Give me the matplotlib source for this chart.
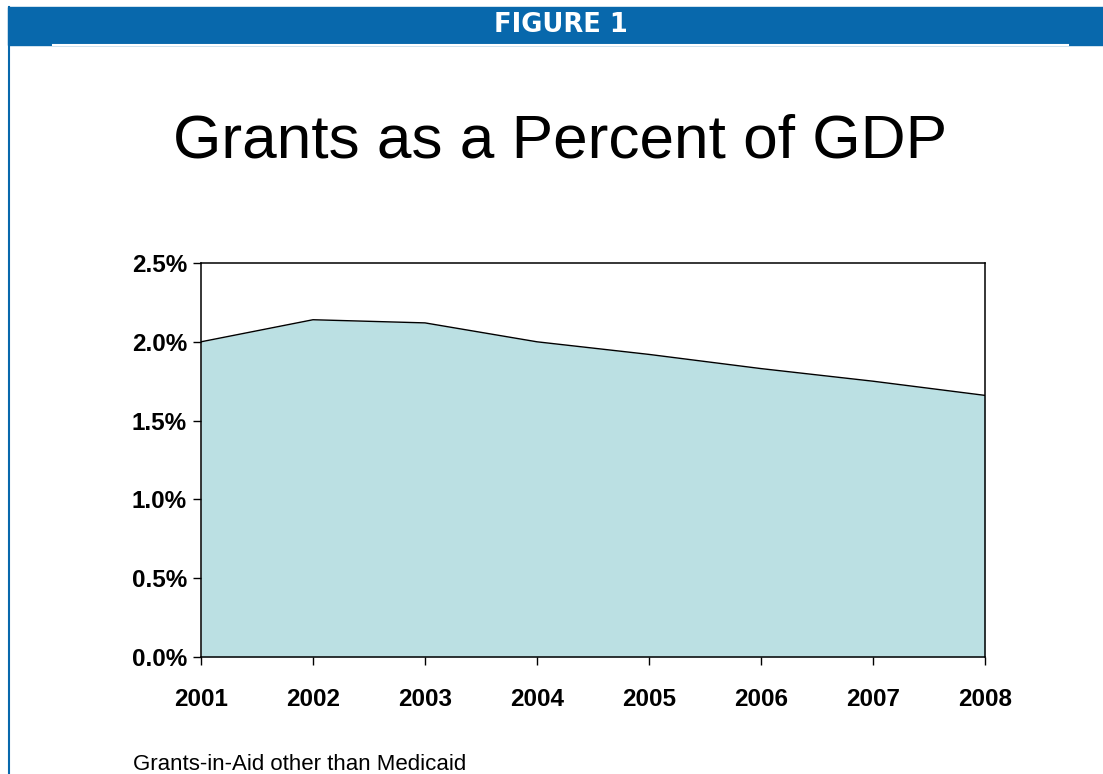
import numpy as np
import matplotlib.pyplot as plt
from matplotlib.patches import Rectangle
from matplotlib.lines import Line2D

years = [2001, 2002, 2003, 2004, 2005, 2006, 2007, 2008]
grants_pct = [2.00, 2.14, 2.12, 2.00, 1.92, 1.83, 1.75, 1.66]
y_ticks = [0.0, 0.5, 1.0, 1.5, 2.0, 2.5]
y_labels = ['0.0%', '0.5%', '1.0%', '1.5%', '2.0%', '2.5%']

W, H = 1103, 774
fig = plt.figure(figsize=(W / 100, H / 100), dpi=100)
plt.rcParams['font.family'] = ['Liberation Sans', 'DejaVu Sans']

# header band + left border
blue = '#0868ac'
fig.patches.append(Rectangle((8 / W, 1 - 45 / H), (W - 8) / W, 38 / H,
                             transform=fig.transFigure, color=blue, zorder=0))
fig.lines.append(Line2D([53 / W, 1068 / W], [1 - 44.5 / H, 1 - 44.5 / H],
                        transform=fig.transFigure, color='white', lw=1.5))
fig.lines.append(Line2D([9 / W, 9 / W], [0, 1 - 7 / H],
                        transform=fig.transFigure, color=blue, lw=1.5))
fig.text(561 / W, 1 - 25 / H, 'FIGURE 1', color='white', fontsize=18.5,
         fontweight='bold', family='DejaVu Sans', ha='center', va='center')

fig.text(560 / W, 1 - 142 / H, 'Grants as a Percent of GDP', fontsize=44.7,
         ha='center', va='center')
fig.text(133 / W, 1 - 770 / H, 'Grants-in-Aid other than Medicaid',
         fontsize=16, ha='left', va='baseline')

ax = fig.add_axes([201 / W, 1 - 657 / H, 784 / W, 394 / H])
x = np.array(years)
ax.fill_between(x, grants_pct, 0, color='#bbe0e3', lw=0)
ax.plot(x, grants_pct, color='black', lw=1)
ax.set_xlim(years[0], years[-1])
ax.set_ylim(0, 2.5)
ax.set_xticks(years)
ax.set_xticklabels([str(y) for y in years])
ax.set_yticks(y_ticks)
ax.set_yticklabels(y_labels)
for s in ax.spines.values():
    s.set_linewidth(1.1)
ax.tick_params(axis='both', direction='out', length=6, width=1,
               labelsize=17.5)
ax.tick_params(axis='x', pad=16)
ax.tick_params(axis='y', pad=4)
for lab in ax.get_xticklabels() + ax.get_yticklabels():
    lab.set_fontweight('bold')

fig.savefig('out.png', dpi=100)
